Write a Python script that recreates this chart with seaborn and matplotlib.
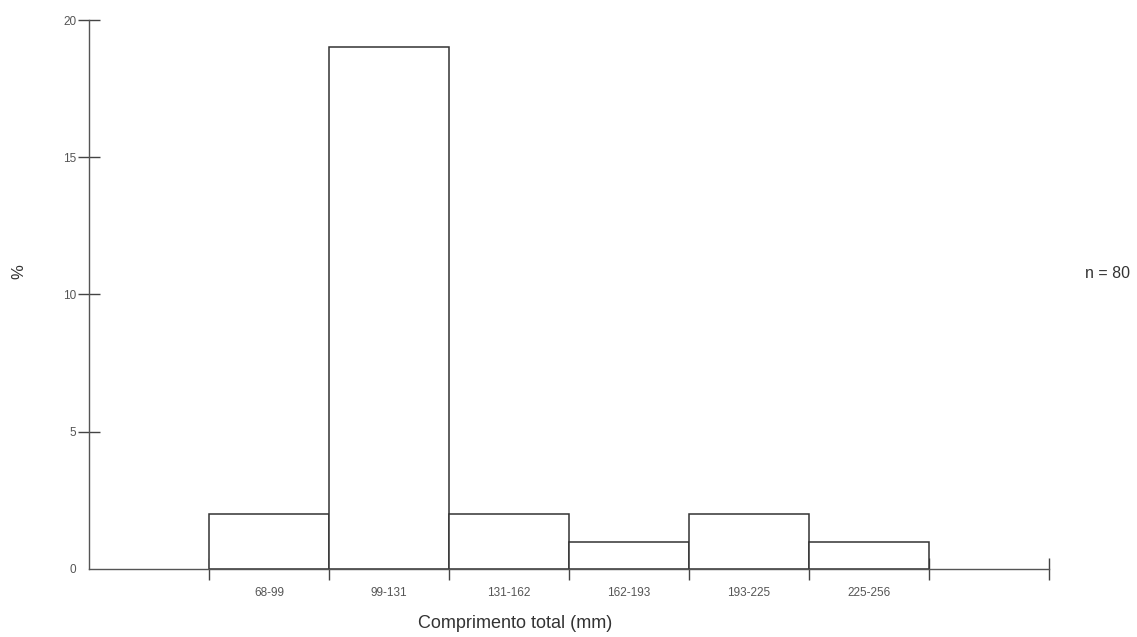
import matplotlib
matplotlib.use('Agg')
import matplotlib.pyplot as plt
import seaborn as sns

# classes de comprimento e percentuais
classes = ['68-99', '99-131', '131-162', '162-193', '193-225', '225-256']
percentual = [2, 19, 2, 1, 2, 1]
y_ticks = [0, 5, 10, 15, 20]
n_total = 80

sns.set_style('white')
plt.rcParams['font.family'] = ['Liberation Sans', 'DejaVu Sans']

fig = plt.figure(figsize=(11.37, 6.37), dpi=100)
ax = fig.add_axes([0.0783, 0.1068, 0.9226 - 0.0783, 0.9686 - 0.1068])

sns.barplot(x=classes, y=percentual, color='white', edgecolor='#333333',
            linewidth=1.1, width=1, saturation=1, ax=ax)

ax.set_xlim(-1.5, len(classes) + 0.5)
ax.set_ylim(0, 20)

sns.despine(ax=ax, top=True, right=True)
for s in ['left', 'bottom']:
    ax.spines[s].set_color('#555555')
    ax.spines[s].set_linewidth(1.0)

# eixo y
ax.set_yticks(y_ticks)
ax.set_yticklabels([str(v) for v in y_ticks])
ax.tick_params(axis='y', left=True, direction='inout', length=16, width=1,
               color='#444444', labelsize=8.5, labelcolor='#555555', pad=1)
ax.yaxis.get_major_ticks()[0].tick1line.set_visible(False)

# eixo x: rotulos no centro, marcas nas bordas das barras
ax.set_xticks(range(len(classes)))
ax.set_xticklabels(classes)
ax.tick_params(axis='x', which='major', bottom=True, length=0, labelsize=8.5,
               labelcolor='#555555', pad=13)
edges = [i - 0.5 for i in range(len(classes) + 1)] + [len(classes) + 0.5]
ax.set_xticks(edges, minor=True)
ax.tick_params(axis='x', which='minor', bottom=True, direction='inout',
               length=16, width=1, color='#444444')

ax.set_xlabel('')
ax.set_ylabel('')
fig.text(515 / 1137, 1 - 624 / 637, 'Comprimento total (mm)', ha='center',
         va='center', fontsize=13, color='#333333')
fig.text(19 / 1137, 1 - 272 / 637, '%', rotation=90, ha='center', va='center',
         fontsize=12, color='#333333')
fig.text(1085 / 1137, 1 - 273 / 637, f'n = {n_total}', ha='left', va='center',
         fontsize=11.5, color='#333333')

plt.savefig('out.png', dpi=100)
